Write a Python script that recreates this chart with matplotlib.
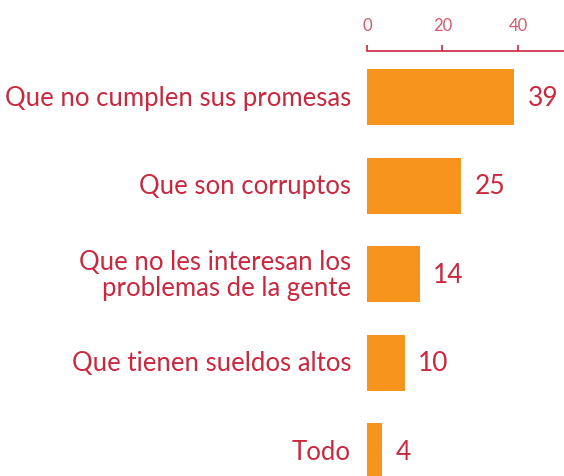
import matplotlib
matplotlib.use("Agg")
import matplotlib.pyplot as plt

# Data
categories = [
    "Que no cumplen sus promesas",
    "Que son corruptos",
    "Que no les interesan los\nproblemas de la gente",
    "Que tienen sueldos altos",
    "Todo",
]
values = [39, 25, 14, 10, 4]
ticks = [0, 20, 40]

bar_color = "#F7941D"
text_color = "#C9283E"
tick_label_color = "#D25A6C"

plt.rcParams["font.family"] = ["Lato", "DejaVu Sans"]

fig = plt.figure(figsize=(5.64, 4.77), dpi=100)
ax = fig.add_axes([367 / 564, 0.0, 1 - 367 / 564, 1 - 52 / 477])

positions = list(range(len(categories)))
ax.barh(positions, values, height=0.633, color=bar_color)

ax.set_xlim(0, 52.2)
ax.set_ylim(4.282, -0.52)

# axis on top
ax.xaxis.tick_top()
ax.set_xticks(ticks)
ax.tick_params(axis="x", colors=text_color, labelcolor=tick_label_color,
               labelsize=12, length=4, width=1.2, pad=9, direction="out")
ax.set_yticks([])
for side in ["bottom", "left", "right"]:
    ax.spines[side].set_visible(False)
ax.spines["top"].set_color(text_color)
ax.spines["top"].set_linewidth(1.2)

# category labels on the left
for pos, cat in zip(positions, categories):
    ax.text(-0.081, pos, cat, transform=ax.get_yaxis_transform(),
            ha="right", va="center", color=text_color, fontsize=18.5,
            linespacing=1.05)

# value labels
for pos, val in zip(positions, values):
    ax.annotate(str(val), xy=(val, pos), xytext=(9.5, 0),
                textcoords="offset points", ha="left", va="center",
                color=text_color, fontsize=19)

fig.savefig("out.png", dpi=100)
